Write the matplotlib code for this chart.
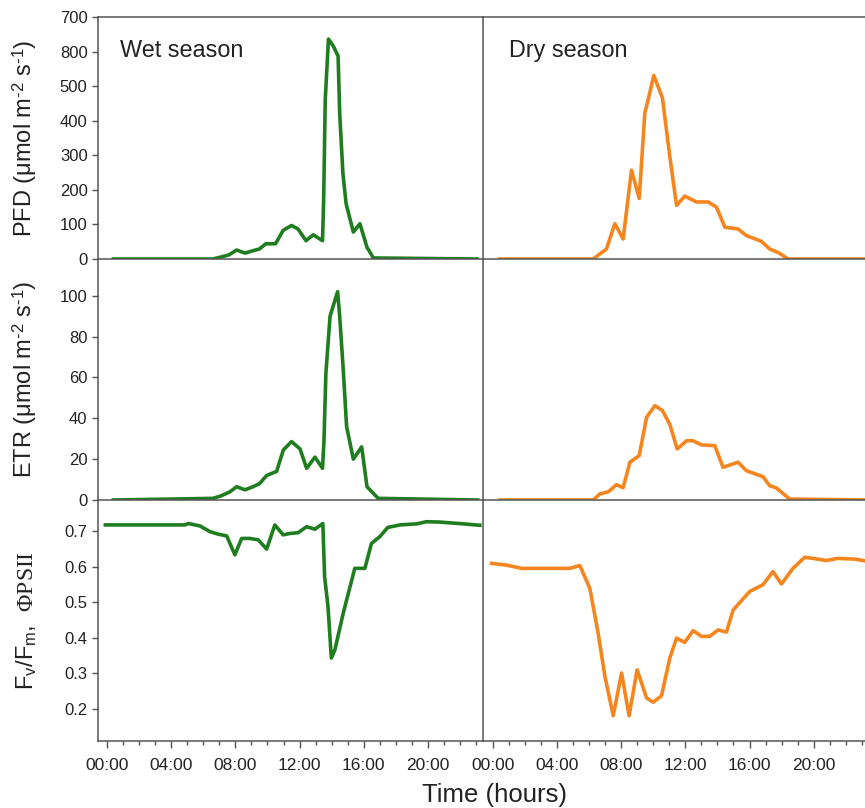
import numpy as np
import matplotlib
matplotlib.use("Agg")
import matplotlib.pyplot as plt
from matplotlib.ticker import MultipleLocator, FixedLocator

plt.rcParams['font.family'] = ['Liberation Sans', 'DejaVu Sans']
plt.rcParams['mathtext.fontset'] = 'custom'
plt.rcParams['mathtext.rm'] = 'Liberation Serif'
plt.rcParams['mathtext.it'] = 'Liberation Serif:italic'

# ---- data (hours, values) ----
wet_pfd_t = [0.4, 6.6, 7.04, 7.6, 8.08, 8.6, 9.1, 9.5, 9.9, 10.5, 10.98, 11.5, 11.9, 12.4,
             12.85, 13.43, 13.5, 13.6, 13.8, 14.1, 14.4, 14.5, 14.7, 14.9, 15.35, 15.76,
             16.2, 16.6, 23.05]
wet_pfd_v = [0, 0, 5, 12, 26, 17, 24, 29, 44, 44, 83, 97, 87, 53,
             70, 53, 170, 461, 636, 616, 587, 422, 248, 160, 78, 102,
             34, 3, 0]

dry_pfd_t = [0.44, 6.25, 7.08, 7.6, 8.12, 8.64, 9.12, 9.47, 9.68, 10.03, 10.57, 11.03,
             11.45, 11.96, 12.69, 13.42, 13.94, 14.46, 15.28, 15.8, 16.74, 17.26, 17.78,
             18.4, 23.2]
dry_pfd_v = [0, 0, 29, 102, 58, 257, 175, 422, 461, 531, 466, 296,
             155, 182, 165, 165, 150, 92, 87, 68, 51, 29, 19,
             0, 0]

wet_etr_t = [0.4, 6.6, 7.1, 7.66, 8.08, 8.6, 9.1, 9.5, 9.95, 10.57, 10.99, 11.5, 12.03,
             12.44, 12.96, 13.43, 13.52, 13.64, 13.9, 14.37, 14.5, 14.72, 14.93, 15.35,
             15.87, 16.2, 16.9, 23.1]
wet_etr_v = [0, 0.8, 2, 4, 6.5, 5, 6.5, 8, 12, 14, 24.5, 28.6, 25,
             15.5, 21, 15.5, 29, 62, 90, 102, 90, 64, 36, 20,
             26, 6.5, 0.8, 0]

dry_etr_t = [0.44, 6.25, 6.67, 7.19, 7.7, 8.12, 8.54, 9.12, 9.58, 10.1, 10.57, 11.03,
             11.49, 12.07, 12.48, 13.0, 13.83, 14.35, 15.28, 15.8, 16.84, 17.26, 17.67,
             18.5, 23.2]
dry_etr_v = [0, 0, 3, 4, 7.5, 6, 18.5, 21.7, 40.5, 46.2, 43.8, 37,
             25, 29, 29, 27, 26.6, 16, 18.5, 14.4, 11.4, 7, 5.9,
             0.5, 0]

wet_y_t = [-0.1, 4.87, 5.07, 5.8, 6.42, 6.94, 7.46, 7.97, 8.39, 8.9, 9.43, 9.95, 10.46,
           10.98, 11.4, 11.9, 12.44, 12.96, 13.45, 13.56, 13.77, 13.98, 14.2, 14.72,
           15.44, 16.07, 16.48, 17.0, 17.5, 18.26, 19.3, 19.9, 20.74, 22.2, 23.23]
wet_y_v = [0.717, 0.717, 0.721, 0.714, 0.698, 0.691, 0.686, 0.633, 0.679, 0.679, 0.675,
           0.649, 0.717, 0.689, 0.693, 0.695, 0.712, 0.705, 0.721, 0.572, 0.488, 0.343,
           0.366, 0.469, 0.595, 0.595, 0.665, 0.684, 0.710, 0.717, 0.720, 0.726, 0.725,
           0.720, 0.716]

dry_y_t = [-0.08, 0.85, 1.79, 4.8, 5.42, 6.04, 6.56, 6.98, 7.5, 8.02, 8.49, 8.99, 9.58,
           9.99, 10.51, 11.03, 11.45, 11.96, 12.48, 13.0, 13.52, 14.04, 14.56, 14.98,
           16.01, 16.84, 17.46, 17.99, 18.71, 19.44, 19.96, 20.79, 21.51, 22.55, 23.2]
dry_y_v = [0.609, 0.604, 0.595, 0.595, 0.603, 0.539, 0.413, 0.292, 0.181, 0.301, 0.181,
           0.310, 0.231, 0.219, 0.237, 0.343, 0.399, 0.387, 0.420, 0.404, 0.404, 0.422,
           0.416, 0.478, 0.530, 0.549, 0.586, 0.551, 0.595, 0.626, 0.623, 0.617, 0.623,
           0.621, 0.616]

pfd_ticks = [0, 100, 200, 300, 400, 500, 600, 700]
pfd_labels = ['0', '100', '200', '300', '400', '500', '800', '700']
etr_ticks = [0, 20, 40, 60, 80, 100]
yield_ticks = [0.2, 0.3, 0.4, 0.5, 0.6, 0.7]
time_ticks = [0, 4, 8, 12, 16, 20]
time_labels = ['00:00', '04:00', '08:00', '12:00', '16:00', '20:00']

GREEN = '#1f7d1f'
ORANGE = '#f5861f'
SPINE = '#555555'
TXT = '#222222'

W, H = 865, 808
fig = plt.figure(figsize=(W / 100, H / 100), dpi=100)

def box(x0, y0, x1, y1):
    return [x0 / W, 1 - y1 / H, (x1 - x0) / W, (y1 - y0) / H]

rows = [(17, 259), (259, 500), (500, 741)]
cols = [(98, 483), (483, 865)]
xlims = [(-0.56, 23.43), (-0.62, 23.2)]

series = [
    [(wet_pfd_t, wet_pfd_v), (dry_pfd_t, dry_pfd_v)],
    [(wet_etr_t, wet_etr_v), (dry_etr_t, dry_etr_v)],
    [(wet_y_t, wet_y_v), (dry_y_t, dry_y_v)],
]
ylims = [(0, 700), (0, 118), (0.11, 0.787)]

axes = [[None, None] for _ in rows]
for r, (y0, y1) in enumerate(rows):
    for c, (x0, x1) in enumerate(cols):
        ax = fig.add_axes(box(x0, y0, x1, y1))
        axes[r][c] = ax
        t, v = series[r][c]
        ax.plot(t, v, color=GREEN if c == 0 else ORANGE, lw=2.6, solid_joinstyle='round')
        ax.set_xlim(*xlims[c])
        ax.set_ylim(*ylims[r])
        ax.patch.set_alpha(0)
        for s in ax.spines.values():
            s.set_color(SPINE)
            s.set_linewidth(1.1)
        ax.spines['right'].set_visible(False)
        ax.spines['top'].set_visible(r == 0)
        ax.tick_params(axis='both', direction='out', colors=SPINE, labelcolor=TXT,
                       labelsize=12, length=4, width=1)
        if c == 1:
            ax.tick_params(axis='y', left=False, labelleft=False)
        if r < 2:
            ax.tick_params(axis='x', bottom=False, labelbottom=False)
        else:
            ax.xaxis.set_major_locator(FixedLocator(time_ticks))
            ax.set_xticklabels(time_labels)
            ax.xaxis.set_minor_locator(MultipleLocator(1))
            ax.tick_params(axis='x', which='major', length=5, labelsize=12.5, pad=7)
            ax.tick_params(axis='x', which='minor', length=3, width=1, colors=SPINE)

axes[0][0].set_yticks(pfd_ticks)
axes[0][0].set_yticklabels(pfd_labels)
axes[1][0].set_yticks(etr_ticks)
axes[2][0].set_yticks(yield_ticks)
axes[2][0].set_yticklabels([f'{v:.1f}' for v in yield_ticks])

lab_kw = dict(fontsize=17, color=TXT)
hy = '\u2010'
unit = (r' ($\mathregular{\mu}$mol m$^\mathregular{' + hy + r'2}$ s$^\mathregular{'
        + hy + r'1}$)')
axes[0][0].set_ylabel('PFD' + unit, **lab_kw)
axes[1][0].set_ylabel('ETR' + unit, **lab_kw)
axes[2][0].set_ylabel(r'F$_\mathregular{v}$/F$_\mathregular{m}$,  $\mathrm{\Phi PSII}$', **lab_kw)
for r in range(3):
    axes[r][0].yaxis.set_label_coords(-0.152, 0.5)

axes[0][0].text((120 - 98) / 385, 0.86, 'Wet season', transform=axes[0][0].transAxes,
                fontsize=16.8, color=TXT, va='center', ha='left')
axes[0][1].text((509 - 483) / 382, 0.86, 'Dry season', transform=axes[0][1].transAxes,
                fontsize=16.8, color=TXT, va='center', ha='left')

fig.text(495 / W, 1 - 795 / H, 'Time (hours)', fontsize=18.5, color=TXT,
         ha='center', va='center')

fig.savefig('out.png', dpi=100)
